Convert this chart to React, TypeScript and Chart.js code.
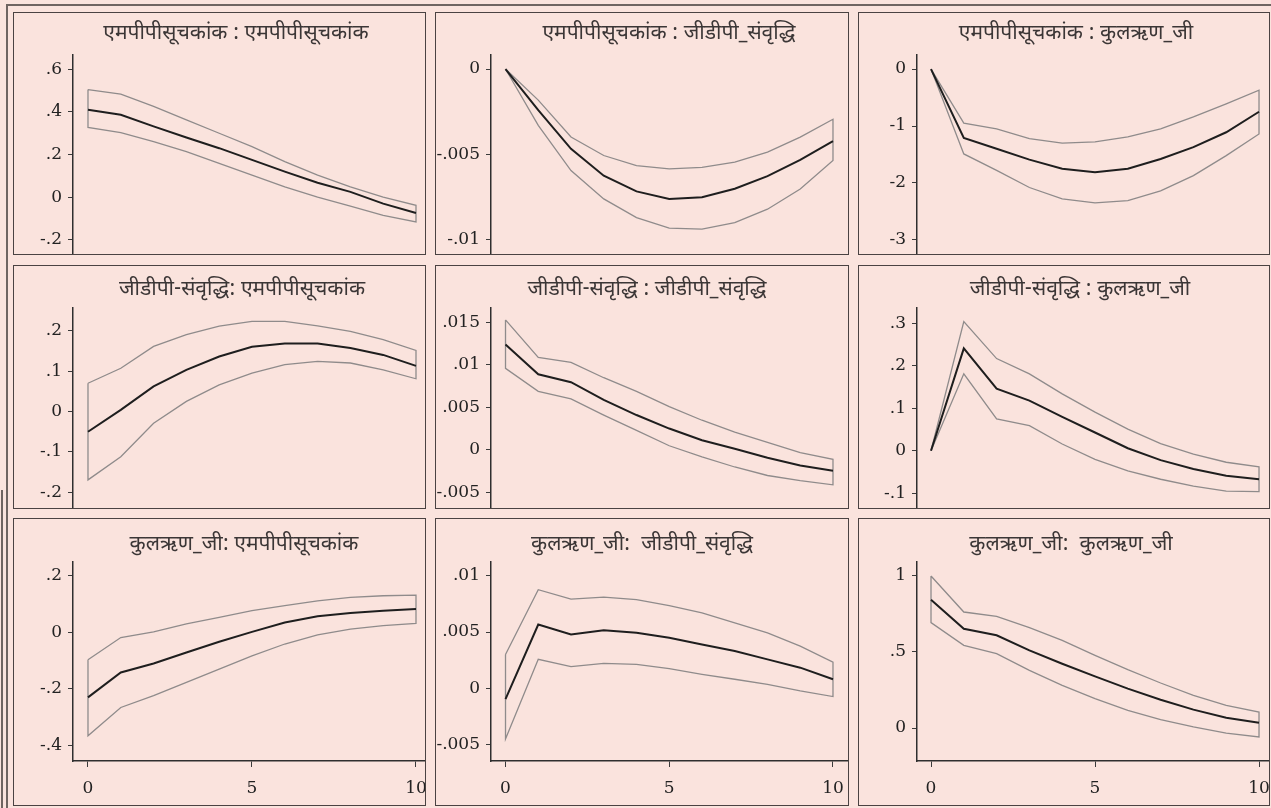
import React, { useEffect, useRef } from "react";
import { Chart, registerables } from "chart.js";

Chart.register(...registerables);

// ---------------- data ----------------
const horizon = [0, 1, 2, 3, 4, 5, 6, 7, 8, 9, 10];
const xTickValues = [0, 5, 10];

const titles = [
  "एमपीपीसूचकांक : एमपीपीसूचकांक",
  "एमपीपीसूचकांक : जीडीपी_संवृद्धि",
  "एमपीपीसूचकांक : कुलऋण_जी",
  "जीडीपी-संवृद्धि: एमपीपीसूचकांक",
  "जीडीपी-संवृद्धि : जीडीपी_संवृद्धि",
  "जीडीपी-संवृद्धि : कुलऋण_जी",
  "कुलऋण_जी: एमपीपीसूचकांक",
  "कुलऋण_जी:  जीडीपी_संवृद्धि",
  "कुलऋण_जी:  कुलऋण_जी",
];

// Panel 1: MPP -> MPP
const mppMpp = [0.41, 0.387, 0.332, 0.28, 0.23, 0.175, 0.12, 0.068, 0.025, -0.03, -0.074];
const mppMppUpper = [0.505, 0.484, 0.426, 0.363, 0.3, 0.237, 0.167, 0.104, 0.049, 0.0, -0.038];
const mppMppLower = [0.327, 0.303, 0.261, 0.214, 0.159, 0.104, 0.049, 0.0, -0.042, -0.085, -0.116];
const mppMppTicks = [0.6, 0.4, 0.2, 0, -0.2];

// Panel 2: MPP -> GDP growth
const mppGdp = [0, -0.0024, -0.00467, -0.00624, -0.00716, -0.0076, -0.0075, -0.007, -0.00627, -0.00531, -0.00422];
const mppGdpUpper = [0, -0.00182, -0.00398, -0.00506, -0.00565, -0.00584, -0.00575, -0.00545, -0.00486, -0.00398, -0.00294];
const mppGdpLower = [0, -0.0033, -0.00594, -0.0076, -0.00869, -0.00931, -0.00937, -0.00898, -0.0082, -0.00702, -0.00535];
const mppGdpTicks = [0, -0.005, -0.01];

// Panel 3: MPP -> total debt
const mppDebt = [0, -1.21, -1.4, -1.59, -1.75, -1.81, -1.75, -1.58, -1.37, -1.11, -0.75];
const mppDebtUpper = [0, -0.95, -1.05, -1.22, -1.3, -1.28, -1.19, -1.05, -0.84, -0.61, -0.37];
const mppDebtLower = [0, -1.49, -1.78, -2.08, -2.28, -2.35, -2.31, -2.14, -1.87, -1.52, -1.14];
const mppDebtTicks = [0, -1, -2, -3];

// Panel 4: GDP growth -> MPP
const gdpMpp = [-0.05, 0.004, 0.062, 0.103, 0.136, 0.16, 0.168, 0.168, 0.157, 0.14, 0.113];
const gdpMppUpper = [0.07, 0.107, 0.161, 0.19, 0.211, 0.223, 0.223, 0.212, 0.198, 0.178, 0.151];
const gdpMppLower = [-0.169, -0.112, -0.029, 0.025, 0.066, 0.095, 0.116, 0.124, 0.12, 0.103, 0.081];
const gdpMppTicks = [0.2, 0.1, 0, -0.1, -0.2];

// Panel 5: GDP growth -> GDP growth
const gdpGdp = [0.0124, 0.00891, 0.00797, 0.0059, 0.00411, 0.00252, 0.00114, 0.00015, -0.00092, -0.00183, -0.00243];
const gdpGdpUpper = [0.0153, 0.0109, 0.0103, 0.0085, 0.0069, 0.0051, 0.0035, 0.0021, 0.0009, -0.0003, -0.0011];
const gdpGdpLower = [0.0096, 0.0069, 0.006, 0.0041, 0.0023, 0.0005, -0.0008, -0.002, -0.003, -0.0036, -0.0041];
const gdpGdpTicks = [0.015, 0.01, 0.005, 0, -0.005];

// Panel 6: GDP growth -> total debt
const gdpDebt = [0, 0.241, 0.146, 0.118, 0.08, 0.043, 0.006, -0.022, -0.043, -0.059, -0.067];
const gdpDebtUpper = [0, 0.304, 0.217, 0.181, 0.134, 0.091, 0.051, 0.017, -0.008, -0.027, -0.038];
const gdpDebtLower = [0, 0.181, 0.075, 0.059, 0.016, -0.02, -0.047, -0.067, -0.083, -0.095, -0.096];
const gdpDebtTicks = [0.3, 0.2, 0.1, 0, -0.1];

// Panel 7: total debt -> MPP
const debtMpp = [-0.23, -0.142, -0.11, -0.071, -0.033, 0.002, 0.035, 0.057, 0.069, 0.077, 0.083];
const debtMppUpper = [-0.097, -0.018, 0.002, 0.03, 0.053, 0.077, 0.095, 0.112, 0.124, 0.13, 0.132];
const debtMppLower = [-0.366, -0.266, -0.224, -0.177, -0.13, -0.083, -0.041, -0.009, 0.012, 0.024, 0.032];
const debtMppTicks = [0.2, 0, -0.2, -0.4];

// Panel 8: total debt -> GDP growth
const debtGdp = [-0.00097, 0.00567, 0.00478, 0.00517, 0.00493, 0.00449, 0.0039, 0.00331, 0.00257, 0.00183, 0.0008];
const debtGdpUpper = [0.003, 0.00877, 0.00794, 0.00812, 0.00789, 0.00735, 0.0067, 0.00582, 0.00493, 0.00375, 0.00233];
const debtGdpLower = [-0.00452, 0.00257, 0.00192, 0.00222, 0.00213, 0.00174, 0.00124, 0.0008, 0.00035, -0.00024, -0.00074];
const debtGdpTicks = [0.01, 0.005, 0, -0.005];

// Panel 9: total debt -> total debt
const debtDebt = [0.844, 0.653, 0.61, 0.511, 0.423, 0.34, 0.259, 0.186, 0.121, 0.068, 0.035];
const debtDebtUpper = [1.0, 0.763, 0.735, 0.66, 0.577, 0.478, 0.384, 0.296, 0.215, 0.149, 0.105];
const debtDebtLower = [0.693, 0.544, 0.489, 0.379, 0.281, 0.193, 0.116, 0.055, 0.007, -0.033, -0.059];
const debtDebtTicks = [1, 0.5, 0];

const panelData = [
  { main: mppMpp, upper: mppMppUpper, lower: mppMppLower, ticks: mppMppTicks, yMin: -0.271, yMax: 0.667 },
  { main: mppGdp, upper: mppGdpUpper, lower: mppGdpLower, ticks: mppGdpTicks, yMin: -0.01088, yMax: 0.00082 },
  { main: mppDebt, upper: mppDebtUpper, lower: mppDebtLower, ticks: mppDebtTicks, yMin: -3.265, yMax: 0.247 },
  { main: gdpMpp, upper: gdpMppUpper, lower: gdpMppLower, ticks: gdpMppTicks, yMin: -0.241, yMax: 0.256 },
  { main: gdpGdp, upper: gdpGdpUpper, lower: gdpGdpLower, ticks: gdpGdpTicks, yMin: -0.00694, yMax: 0.0167 },
  { main: gdpDebt, upper: gdpDebtUpper, lower: gdpDebtLower, ticks: gdpDebtTicks, yMin: -0.137, yMax: 0.336 },
  { main: debtMpp, upper: debtMppUpper, lower: debtMppLower, ticks: debtMppTicks, yMin: -0.4556, yMax: 0.2496 },
  { main: debtGdp, upper: debtGdpUpper, lower: debtGdpLower, ticks: debtGdpTicks, yMin: -0.00648, yMax: 0.01124 },
  { main: debtDebt, upper: debtDebtUpper, lower: debtDebtLower, ticks: debtDebtTicks, yMin: -0.217, yMax: 1.092 },
];

// ---------------- layout / style ----------------
const BG = "#fae3dd";
const FRAME = "#4a4242";
const cols = [
  { left: 13, width: 413, axisW: 60, xMin: -0.457, xMax: 10.305 },
  { left: 435, width: 414, axisW: 56, xMin: -0.443, xMax: 10.489 },
  { left: 858, width: 412, axisW: 59, xMin: -0.427, xMax: 10.335 },
];
const rows = [
  { top: 12, height: 243, padTop: 43, xAxisH: 0, titleY: 35 },
  { top: 265, height: 244, padTop: 43, xAxisH: 0, titleY: 291 },
  { top: 518, height: 288, padTop: 44, xAxisH: 45, titleY: 546 },
];
const titleCenters = [236, 669, 1076, 242, 647, 1080, 244, 642, 1071];
const TITLE_FONT = '"Noto Sans Devanagari", "Noto Sans", "Lohit Devanagari", sans-serif';
const TICK_FONT = "DejaVu Serif";

const fmt = (v: number) => {
  if (v === 0) return "0";
  return String(v).replace(/^(-?)0\./, "$1.");
};

function Panel({ idx }: { idx: number }) {
  const ref = useRef<HTMLCanvasElement | null>(null);
  const col = cols[idx % 3];
  const row = rows[Math.floor(idx / 3)];
  const d = panelData[idx];

  useEffect(() => {
    if (!ref.current) return;
    const mainPts = horizon.map((h, i) => ({ x: h, y: d.main[i] }));
    const bandPts = [
      ...horizon.map((h, i) => ({ x: h, y: d.upper[i] })),
      ...horizon
        .slice()
        .reverse()
        .map((h) => ({ x: h, y: d.lower[horizon.indexOf(h)] })),
      { x: horizon[0], y: d.upper[0] },
    ];
    const showX = row.xAxisH > 0;
    const title = titles[idx];
    const tx = titleCenters[idx] - col.left;
    const ty = row.titleY - row.top;

    const titlePlugin = {
      id: "panelTitle",
      afterDraw(chart: any) {
        const ctx = chart.ctx;
        ctx.save();
        ctx.font = `normal 21px ${TITLE_FONT}`;
        ctx.fillStyle = "#3b3636";
        ctx.textAlign = "center";
        ctx.textBaseline = "middle";
        ctx.fillText(title, tx, ty);
        ctx.restore();
      },
    };

    const chart = new Chart(ref.current, {
      type: "line",
      data: {
        datasets: [
          {
            data: mainPts,
            borderColor: "#1e1e1e",
            borderWidth: 2,
            pointRadius: 0,
            tension: 0,
            fill: false,
          },
          {
            data: bandPts,
            borderColor: "#8f8b8b",
            borderWidth: 1.3,
            pointRadius: 0,
            tension: 0,
            fill: false,
          },
        ],
      },
      options: {
        animation: false,
        responsive: false,
        events: [],
        layout: { padding: { top: row.padTop, right: 0, bottom: 0, left: 0 } },
        plugins: { legend: { display: false }, tooltip: { enabled: false }, title: { display: false } },
        scales: {
          x: {
            type: "linear",
            display: showX,
            min: col.xMin,
            max: col.xMax,
            afterBuildTicks: (scale: any) => {
              scale.ticks = xTickValues.map((v) => ({ value: v }));
            },
            afterFit: (scale: any) => {
              scale.height = row.xAxisH;
              scale.paddingLeft = 0;
              scale.paddingRight = 0;
            },
            grid: { drawOnChartArea: false, drawTicks: true, tickLength: 6, color: "#3a3a3a", lineWidth: 1 },
            border: { display: true, color: "#2e2e2e", width: 1.5 },
            ticks: {
              padding: 11,
              maxRotation: 0,
              autoSkip: false,
              color: "#222",
              font: { family: TICK_FONT, size: 17 },
              callback: (v: any) => fmt(Number(v)),
            },
          },
          y: {
            type: "linear",
            min: d.yMin,
            max: d.yMax,
            afterBuildTicks: (scale: any) => {
              scale.ticks = d.ticks.map((v) => ({ value: v }));
            },
            afterFit: (scale: any) => {
              scale.width = col.axisW;
              scale.paddingTop = 0;
              scale.paddingBottom = 0;
            },
            grid: { drawOnChartArea: false, drawTicks: true, tickLength: 5, color: "#3a3a3a", lineWidth: 1 },
            border: { display: true, color: "#2e2e2e", width: 1.5 },
            ticks: {
              padding: 6,
              autoSkip: false,
              color: "#222",
              font: { family: TICK_FONT, size: 17 },
              callback: (v: any) => fmt(Number(v)),
            },
          },
        },
      } as any,
      plugins: [titlePlugin],
    });
    return () => chart.destroy();
  }, [idx]);

  return (
    <div
      style={{
        position: "absolute",
        left: col.left,
        top: row.top,
        width: col.width,
        height: row.height,
      }}
    >
      <canvas
        ref={ref}
        width={col.width}
        height={row.height}
        style={{ position: "absolute", left: 0, top: 0, width: col.width, height: row.height }}
      />
      <div
        style={{
          position: "absolute",
          left: 0,
          top: 0,
          width: col.width,
          height: row.height,
          boxSizing: "border-box",
          border: `1.5px solid ${FRAME}`,
          pointerEvents: "none",
        }}
      />
    </div>
  );
}

export default function App() {
  useEffect(() => {
    document.body.style.margin = "0";
    document.body.style.background = BG;
  }, []);
  return (
    <div
      style={{
        position: "absolute",
        left: 0,
        top: 0,
        width: 1271,
        height: 808,
        overflow: "hidden",
        background: BG,
      }}
    >
      <div
        style={{
          position: "absolute",
          left: 6,
          top: 4,
          width: 1300,
          height: 900,
          borderLeft: "2px solid #6f6461",
          borderTop: "2px solid #6f6461",
        }}
      />
      <div style={{ position: "absolute", left: 1, top: 490, width: 2, height: 318, background: "#6f6461" }} />
      {[0, 1, 2, 3, 4, 5, 6, 7, 8].map((i) => (
        <Panel key={i} idx={i} />
      ))}
    </div>
  );
}
